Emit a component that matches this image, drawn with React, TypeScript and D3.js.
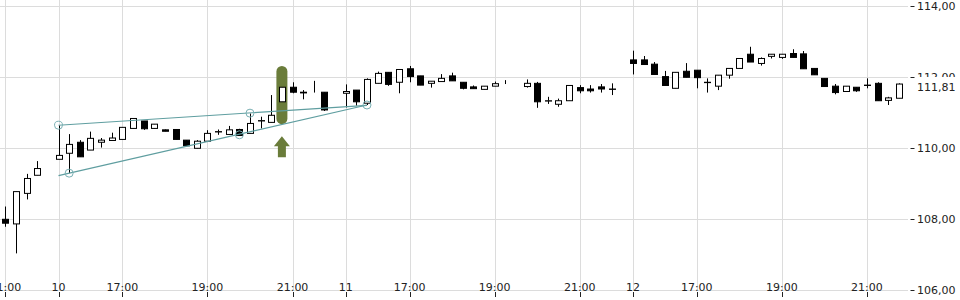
import React from 'react';
import * as d3 from 'd3';

// ---- categories (15-minute candles) ----
function sessionSlots(day: string, from: string, to: string): string[] {
  const toMin = (s: string) => { const [h, m] = s.split(':').map(Number); return h * 60 + m; };
  const out: string[] = [];
  for (let t = toMin(from); t <= toMin(to); t += 15) {
    const h = Math.floor(t / 60), m = t % 60;
    out.push(`${day} ${String(h).padStart(2, '0')}:${String(m).padStart(2, '0')}`);
  }
  return out;
}
const times: string[] = [
  ...sessionSlots('9', '21:00', '22:00'),
  ...sessionSlots('10', '15:30', '22:00'),
  ...sessionSlots('11', '15:30', '22:00'),
  ...sessionSlots('12', '15:30', '21:45'),
];

// ---- OHLC values ----
const opens = [
  108.00, 107.87, 108.73, 109.24, 109.43,
  109.69, 109.86, 110.17, 109.95, 110.17, 110.22, 110.25, 110.56, 110.77, 110.56, 110.52, 110.53, 110.23, 110.00,
  110.20, 110.46, 110.39, 110.53, 110.42, 110.77, 110.73, 111.31, 111.72, 111.58, 111.57, 111.58, 111.08,
  111.55, 111.64, 111.27, 111.83, 112.14, 111.86, 112.24, 112.04, 111.83, 111.88, 112.04, 111.86, 111.73,
  111.66, 111.75, 111.81, 111.78, 111.74, 111.83, 111.33, 111.24, 111.34, 111.71, 111.67, 111.73, 111.67, 111.75,
  112.49, 112.49, 112.37, 112.02, 111.69, 112.17, 112.20, 111.85, 111.75, 112.06, 112.25, 112.65, 112.39,
  112.59, 112.56, 112.67, 112.66, 112.25, 111.97, 111.75, 111.60, 111.72, 111.78, 111.83, 111.35, 111.41,
];
const highs = [
  108.36, 108.78, 109.28, 109.64, 109.43,
  110.65, 110.40, 110.23, 110.47, 110.29, 110.44, 110.59, 110.84, 110.77, 110.68, 110.53, 110.53, 110.23, 110.23,
  110.51, 110.53, 110.63, 110.55, 110.98, 110.89, 111.50, 111.72, 111.86, 111.64, 111.90, 111.58, 111.08,
  111.80, 111.64, 111.97, 112.16, 112.14, 112.22, 112.32, 112.04, 111.89, 112.09, 112.13, 111.86, 111.77,
  111.75, 111.88, 111.92, 111.78, 111.94, 111.87, 111.45, 111.40, 111.77, 111.78, 111.78, 111.81, 111.83, 111.75,
  112.75, 112.60, 112.43, 112.18, 112.14, 112.40, 112.20, 111.97, 112.06, 112.25, 112.53, 112.86, 112.56,
  112.65, 112.65, 112.79, 112.74, 112.25, 111.97, 111.81, 111.75, 111.72, 111.97, 111.86, 111.45, 111.83,
];
const lows = [
  107.79, 107.04, 108.56, 109.24, 109.43,
  109.69, 109.30, 109.76, 109.95, 110.02, 110.22, 110.25, 110.56, 110.52, 110.56, 110.48, 110.25, 110.07, 110.00,
  110.20, 110.38, 110.39, 110.36, 110.42, 110.56, 110.73, 111.31, 111.55, 111.38, 111.57, 111.05, 111.08,
  111.15, 111.20, 111.22, 111.83, 111.76, 111.55, 111.86, 111.78, 111.71, 111.88, 111.90, 111.66, 111.68,
  111.66, 111.75, 111.81, 111.78, 111.71, 111.14, 111.25, 111.17, 111.34, 111.55, 111.57, 111.57, 111.50, 111.75,
  112.08, 112.36, 112.08, 111.77, 111.69, 112.00, 111.69, 111.57, 111.64, 111.96, 112.25, 112.43, 112.33,
  112.53, 112.52, 112.56, 112.24, 112.07, 111.74, 111.52, 111.60, 111.59, 111.69, 111.34, 111.22, 111.41,
];
const closes = [
  107.89, 108.78, 109.15, 109.43, 109.43,
  109.80, 110.11, 109.76, 110.28, 110.23, 110.29, 110.59, 110.84, 110.55, 110.68, 110.48, 110.25, 110.07, 110.20,
  110.42, 110.47, 110.52, 110.36, 110.70, 110.78, 110.93, 111.72, 111.58, 111.56, 111.57, 111.08, 111.08,
  111.60, 111.31, 111.94, 112.11, 111.80, 112.22, 112.02, 111.78, 111.89, 111.97, 111.90, 111.69, 111.68,
  111.75, 111.82, 111.81, 111.78, 111.83, 111.31, 111.34, 111.34, 111.77, 111.62, 111.62, 111.67, 111.66, 111.75,
  112.39, 112.36, 112.08, 111.77, 112.14, 112.00, 111.99, 111.86, 112.06, 112.25, 112.53, 112.43, 112.53,
  112.65, 112.65, 112.56, 112.24, 112.07, 111.74, 111.57, 111.75, 111.62, 111.77, 111.34, 111.42, 111.81,
];

// ---- axis ticks ----
const xTickTimes = ['9 21:00', '10 15:30', '10 17:00', '10 19:00', '10 21:00', '11 15:30', '11 17:00', '11 19:00', '11 21:00', '12 15:30', '12 17:00', '12 19:00', '12 21:00'];
const xTickLabels = ['21:00', '10', '17:00', '19:00', '21:00', '11', '17:00', '19:00', '21:00', '12', '17:00', '19:00', '21:00'];
const yTicks = [106, 108, 110, 112, 114];

// ---- annotations ----
const upperLine: [string, number][] = [['10 15:30', 110.65], ['11 16:00', 111.21]];
const lowerLine: [string, number][] = [['10 15:30', 109.23], ['11 16:00', 111.22]];
const pivotPoints: [string, number][] = [
  ['10 15:30', 110.65], ['10 20:00', 110.99],
  ['10 15:45', 109.30], ['10 19:45', 110.38], ['11 16:00', 111.22],
];
const highlightTime = '10 20:45';
const highlightRange = [110.68, 112.32];

const W = 960, H = 300;
const plotRight = 908;
const plotBottom = 290.3;

const fmt = (v: number) => d3.format('.2f')(v).replace('.', ',');

export default function App() {
  const x = d3.scaleBand<string>().domain(times).range([0, 904.2]).padding(0);
  const cx = (t: string) => (x(t) as number) + x.bandwidth() / 2;
  const y = d3.scaleLinear().domain([106, 114]).range([plotBottom, 6.3]);
  const teal = '#5f9ea0';
  const green = '#6a7c3a';
  const font = 'DejaVu Sans, sans-serif';
  const lastPrice = closes[closes.length - 1];

  const line = d3.line<[string, number]>().x(d => cx(d[0])).y(d => y(d[1]));

  const hx = cx(highlightTime);
  const hTop = y(highlightRange[1]);
  const hBot = y(highlightRange[0]);
  const arrowTip = hBot + 12;

  return (
    <svg width={W} height={H} style={{ position: 'absolute', left: 0, top: 0, background: '#fff' }}>
      {/* horizontal grid */}
      {yTicks.map(t => (
        <line key={'hg' + t} x1={0} x2={plotRight} y1={Math.round(y(t)) + 0.5} y2={Math.round(y(t)) + 0.5} stroke="#dcdcdc" strokeWidth={1} />
      ))}
      {/* vertical grid */}
      {xTickTimes.map(t => (
        <line key={'vg' + t} x1={Math.round(cx(t)) + 0.5} x2={Math.round(cx(t)) + 0.5} y1={0} y2={plotBottom} stroke="#dcdcdc" strokeWidth={1} />
      ))}

      {/* highlight pill */}
      <rect x={hx - 5.5} y={hTop} width={11} height={hBot - hTop} rx={5.5} ry={5.5} fill={green} />

      {/* candles */}
      {times.map((t, i) => {
        const c = Math.round(cx(t));
        const o = opens[i], cl = closes[i];
        const up = cl >= o;
        const yTop = y(Math.max(o, cl));
        const yBot = y(Math.min(o, cl));
        return (
          <g key={t}>
            <line x1={c + 0.5} x2={c + 0.5} y1={y(highs[i])} y2={y(lows[i])} stroke="#000" strokeWidth={1} />
            <rect x={c - 3 + 0.5} y={yTop} width={6} height={Math.max(0, yBot - yTop)} fill={up ? '#fff' : '#000'} stroke="#000" strokeWidth={1} />
          </g>
        );
      })}

      {/* trend lines */}
      <path d={line(upperLine) || ''} fill="none" stroke={teal} strokeWidth={1.2} />
      <path d={line(lowerLine) || ''} fill="none" stroke={teal} strokeWidth={1.2} />
      {pivotPoints.map((p, i) => (
        <circle key={'pp' + i} cx={cx(p[0])} cy={y(p[1])} r={4} fill="none" stroke="#7ab0b4" strokeWidth={1} />
      ))}

      {/* arrow */}
      <path
        d={`M${hx},${arrowTip} L${hx + 8},${arrowTip + 10} L${hx + 4},${arrowTip + 10} L${hx + 4},${arrowTip + 21} L${hx - 4},${arrowTip + 21} L${hx - 4},${arrowTip + 10} L${hx - 8},${arrowTip + 10} Z`}
        fill={green}
      />

      {/* y axis */}
      {yTicks.map(t => (
        <g key={'yt' + t}>
          <line x1={910.5} x2={914.5} y1={Math.round(y(t)) + 0.5} y2={Math.round(y(t)) + 0.5} stroke="#222" strokeWidth={1} />
          <text x={917} y={y(t) + 4} fontFamily={font} fontSize={11} fill="#222">{fmt(t)}</text>
        </g>
      ))}
      {/* last price label */}
      <rect x={916} y={77} width={44} height={16} fill="#fff" />
      <text x={917} y={90.5} fontFamily={font} fontSize={11} fill="#222">{fmt(lastPrice)}</text>

      {/* x axis */}
      {xTickTimes.map((t, i) => (
        <g key={'xt' + t}>
          <line x1={Math.round(cx(t)) + 0.5} x2={Math.round(cx(t)) + 0.5} y1={292} y2={297} stroke="#222" strokeWidth={1} />
          <text x={cx(t)} y={291} textAnchor="middle" fontFamily={font} fontSize={11} fill="#222">{xTickLabels[i]}</text>
        </g>
      ))}
    </svg>
  );
}
